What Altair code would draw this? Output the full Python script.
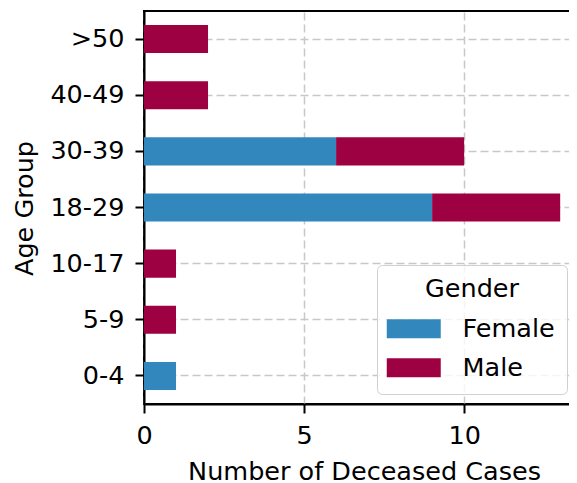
import altair as alt
import pandas as pd

age_groups = ["0-4", "5-9", "10-17", "18-29", "30-39", "40-49", ">50"]
female = [1, 0, 0, 9, 6, 0, 0]
male = [0, 1, 1, 4, 4, 2, 2]
genders = ["Female", "Male"]
colors = ["#3288bd", "#9e0142"]
x_ticks = [0, 5, 10]

rows = []
for g, f, m in zip(age_groups, female, male):
    rows.append({"age": g, "gender": "Female", "count": f})
    rows.append({"age": g, "gender": "Male", "count": m})
df = pd.DataFrame(rows)

FONT = "DejaVu Sans"
FS = 25.5

chart = alt.Chart(df).mark_bar().encode(
    x=alt.X("count:Q", stack="zero",
            scale=alt.Scale(domain=[0, 13.65], nice=False, zero=True),
            axis=alt.Axis(values=x_ticks, format="d", title="Number of Deceased Cases",
                          titleBaseline="alphabetic", titleY=75, titleX=220,
                          labelPadding=10, labelFlush=False)),
    y=alt.Y("age:N", sort=age_groups[::-1],
            scale=alt.Scale(paddingInner=0.5, paddingOuter=0.25),
            axis=alt.Axis(title="Age Group", bandPosition=0.5, labelPadding=11,
                          titleBaseline="alphabetic", titleX=-112, titleY=197, titleAngle=-90)),
    color=alt.Color("gender:N", scale=alt.Scale(domain=genders, range=colors),
                    legend=alt.Legend(
                        title="Gender", orient="none", legendX=233, legendY=254,
                        symbolType="M-2.7,-0.95H2.7V0.95H-2.7Z", symbolSize=400,
                        symbolStrokeWidth=0, symbolOffset=12, labelOffset=36,
                        padding=12, titlePadding=13.5, rowPadding=12,
                        titleAnchor="middle", fillColor="rgba(255,255,255,0.8)",
                        strokeColor="#d0d0d0", cornerRadius=5,
                        labelFont=FONT, labelFontSize=FS, labelColor="black",
                        titleFont=FONT, titleFontSize=FS, titleFontWeight="normal",
                        titleColor="black", zindex=2)),
    order=alt.Order("gender:N", sort="ascending"),
).properties(
    width=437, height=393,
    autosize=alt.AutoSizeParams(type="none"),
    padding={"left": 136, "top": 3, "right": -12, "bottom": 79},
    title=alt.TitleParams("Split of Deaths by Age & Gender", fontSize=30.6, font=FONT,
                          fontWeight="normal", color="#2b83ba", anchor="middle",
                          baseline="alphabetic", offset=12),
).configure_axis(
    labelFont=FONT, labelFontSize=FS, labelColor="black",
    titleFont=FONT, titleFontSize=FS, titleFontWeight="normal", titleColor="black",
    domainColor="black", domainWidth=2, tickColor="black", tickWidth=2, tickSize=9,
    grid=True, gridColor="#c8c8c8", gridWidth=1.5, gridDash=[8, 4], zindex=1,
).configure_view(
    stroke="black", strokeWidth=2,
)

chart.save("out.html", embed_options={"renderer": "svg", "actions": False})
